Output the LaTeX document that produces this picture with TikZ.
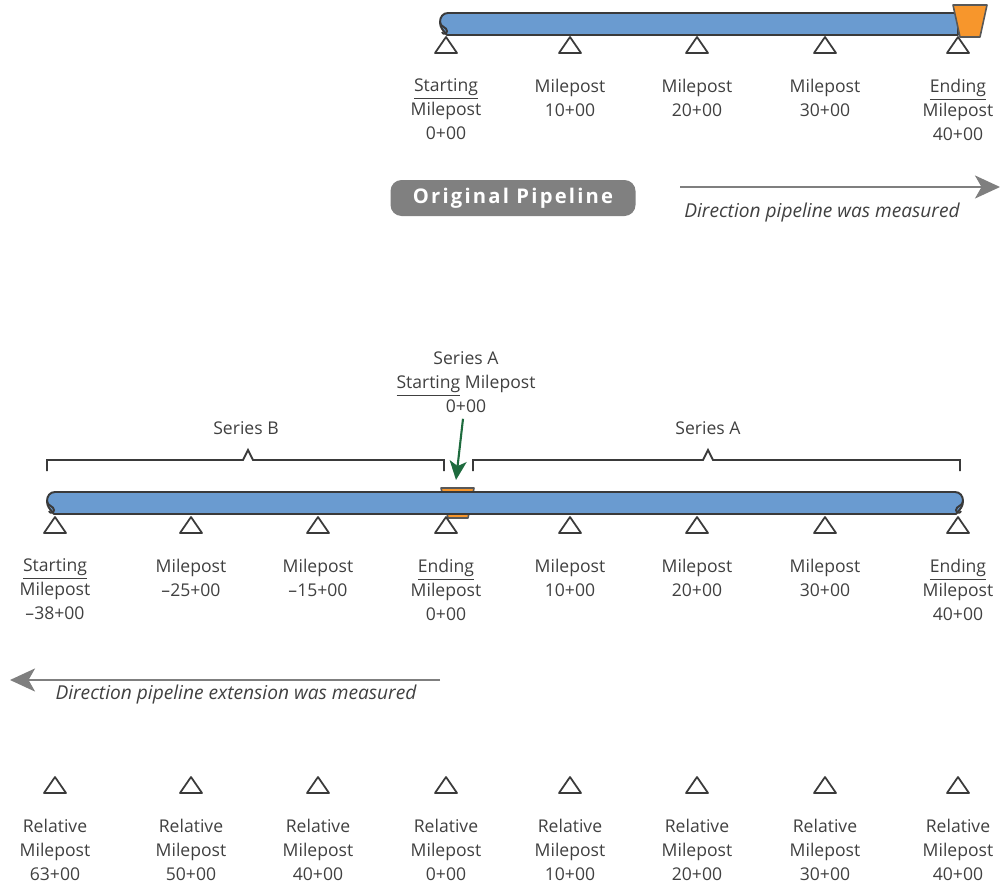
\documentclass[tikz,border=0pt]{standalone}
\usepackage{fontspec}
\setmainfont{Open Sans}
\usepackage{tikz}
\usetikzlibrary{positioning, arrows.meta}
\definecolor{pipeBlue}{HTML}{6A9BD0}
\definecolor{pipeOrange}{HTML}{F7962C}
\definecolor{lineDark}{HTML}{3A3A3A}
\definecolor{inkGray}{HTML}{404040}
\definecolor{arrowGray}{HTML}{7F7F7F}
\definecolor{badgeGray}{HTML}{808080}
\definecolor{markGreen}{HTML}{1E6B3E}

\begin{document}
\begin{tikzpicture}[
  x=0.2mm, y=-0.2mm,
  every node/.style={font=\fontsize{10}{13.6}\selectfont, text=inkGray},
  pipe/.style={draw=lineDark, line width=1.1pt, fill=pipeBlue, line join=round},
  curl/.style={draw=lineDark, line width=1.1pt},
  coupler/.style={draw=lineDark!85, line width=0.9pt, fill=pipeOrange, line join=round},
  support/.style={draw=lineDark, line width=1pt, fill=white, line join=round},
  mplabel/.style={align=center, inner sep=0pt},
  bracket/.style={draw=lineDark, line width=1.1pt},
  dirarrow/.style={-{Stealth[length=5mm, width=4.6mm, inset=1.3mm]}, arrowGray, line width=1.3pt},
  dirlabel/.style={inner sep=0pt, font=\itshape\fontsize{10.9}{12}\selectfont},
  badge/.style={
    rectangle, rounded corners=2.2mm,
    minimum width=49mm, minimum height=7.2mm,
    fill=badgeGray, text=white,
    font=\bfseries\fontsize{11.5}{12}\selectfont\addfontfeature{LetterSpace=11}
  },
]
\useasboundingbox (0,0) rectangle (1000,886);

% === Original pipeline ===
\draw[pipe] (958,13) -- (448,13) .. controls (443,13) and (440,17) .. (440,22)
  .. controls (440,28) and (443,30) .. (447,35) -- (958,35) -- cycle;
\draw[curl] (440,22) .. controls (440,27) and (447,27) .. (447,31)
  .. controls (447,34) and (443,35) .. (442,32);
\draw[coupler] (953,5) -- (987,5) -- (980,37) -- (960,37) -- cycle;

\foreach \x [count=\i] in {446,570,697,825,958} {
  \draw[support] (\x,37) -- ++(11,16) -- ++(-22,0) -- cycle;
  \coordinate (t\i) at (\x,53);
}
\foreach \i/\txt in {1/{\underline{Starting}\\Milepost\\0+00}, 2/{Milepost\\10+00},
    3/{Milepost\\20+00}, 4/{Milepost\\30+00}, 5/{\underline{Ending}\\Milepost\\40+00}} {
  \node[mplabel, below=5.1mm of t\i] (tl\i) {\txt};
}

\node[badge] (orig) at (513,198) {Original Pipeline};
\coordinate (topfrom) at (680,187);
\coordinate (topto) at (1000,187);
\draw[dirarrow] (topfrom) -- (topto);
\node[dirlabel] (toptxt) at (822,213) {Direction pipeline was measured};

% === Extended pipeline ===
\draw[coupler] (441,488) -- (474,488) -- (468,518) -- (448,518) -- cycle;
\draw[pipe] (955,492) -- (55,492) .. controls (50,492) and (47,496) .. (47,501)
  .. controls (47,507) and (50,509) .. (54,514) -- (956,514)
  .. controls (960,509) and (963,507) .. (963,501)
  .. controls (963,496) and (960,492) .. (955,492) -- cycle;
\draw[curl] (47,501) .. controls (47,506) and (54,506) .. (54,510)
  .. controls (54,513) and (50,514) .. (49,511);
\draw[curl] (963,501) .. controls (963,506) and (956,506) .. (956,510)
  .. controls (956,513) and (960,514) .. (961,511);

\foreach \x [count=\i] in {55,191,318,446,570,697,825,958} {
  \draw[support] (\x,517) -- ++(11,16) -- ++(-22,0) -- cycle;
  \coordinate (b\i) at (\x,533);
}
\foreach \i/\txt in {1/{\underline{Starting}\\Milepost\\\textendash38+00},
    2/{Milepost\\\textendash25+00}, 3/{Milepost\\\textendash15+00},
    4/{\underline{Ending}\\Milepost\\0+00}, 5/{Milepost\\10+00},
    6/{Milepost\\20+00}, 7/{Milepost\\30+00},
    8/{\underline{Ending}\\Milepost\\40+00}} {
  \node[mplabel, below=5.1mm of b\i] (bl\i) {\txt};
}

% === Series brackets ===
\draw[bracket] (47,471) -- (47,460) -- (243,460) -- (248,450) -- (253,460)
  -- (444,460) -- (444,471);
\draw[bracket] (473,471) -- (473,460) -- (703,460) -- (708,450) -- (713,460)
  -- (960,460) -- (960,471);
\node (serB) at (246,428) {Series B};
\node (serA) at (708,428) {Series A};

\node[mplabel] (hdr) at (466,382) {Series A\\\underline{Starting} Milepost\\0+00};
\coordinate (gtip) at (456,480);
\draw[-{Stealth[length=3.8mm, width=3.4mm, inset=1mm]}, markGreen, line width=1.2pt]
  ([xshift=-0.6mm, yshift=-1.2mm]hdr.south) -- (gtip);

\coordinate (botfrom) at (440,680);
\coordinate (botto) at (10,680);
\draw[dirarrow] (botfrom) -- (botto);
\node[dirlabel] (bottxt) at (236,695) {Direction pipeline extension was measured};

% === Relative mileposts ===
\foreach \x [count=\i] in {55,191,318,446,570,697,825,958} {
  \draw[support] (\x,777) -- ++(11,16) -- ++(-22,0) -- cycle;
  \coordinate (r\i) at (\x,793);
}
\foreach \i/\v in {1/63+00, 2/50+00, 3/40+00, 4/0+00, 5/10+00, 6/20+00, 7/30+00, 8/40+00} {
  \node[mplabel, below=5.1mm of r\i] (rl\i) {Relative\\Milepost\\\v};
}

\end{tikzpicture}
\end{document}
